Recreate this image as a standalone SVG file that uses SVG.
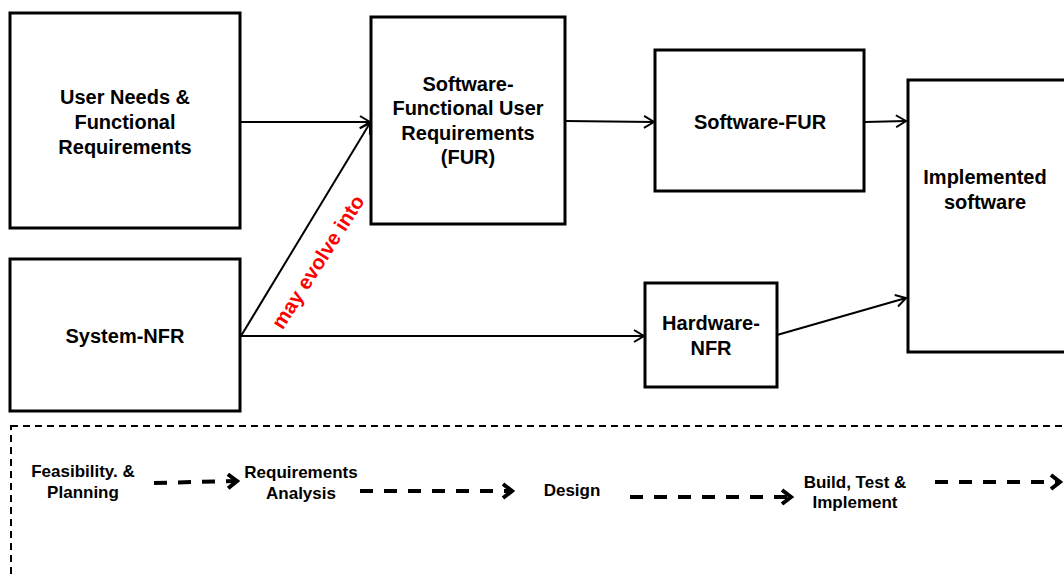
<svg xmlns="http://www.w3.org/2000/svg" width="1064" height="574" viewBox="0 0 1064 574">
  <style>
    .box { fill: #fff; stroke: #000; stroke-width: 3; }
    .lbl { font-family: "Liberation Sans", Arial, sans-serif; font-weight: bold; font-size: 20px; fill: #000; text-anchor: middle; }
    .phase { font-family: "Liberation Sans", Arial, sans-serif; font-weight: bold; font-size: 17px; fill: #000; text-anchor: middle; }
    .note { font-family: "Liberation Sans", Arial, sans-serif; font-weight: bold; font-size: 20.5px; fill: #ff0000; text-anchor: middle; }
    .conn { fill: none; stroke: #000; stroke-width: 2; marker-end: url(#open); }
    .flow { fill: none; stroke: #000; stroke-width: 4; stroke-dasharray: 13 11; marker-end: url(#chev); }
    .frame { fill: none; stroke: #000; stroke-width: 2; stroke-dasharray: 7 5; }
  </style>
  <defs>
    <marker id="open" markerUnits="userSpaceOnUse" markerWidth="14" markerHeight="16" viewBox="-12 -8 14 16" refX="0" refY="0" orient="auto">
      <path d="M-10,-6 L0,0 L-10,6" fill="none" stroke="#000" stroke-width="2"/>
    </marker>
    <marker id="chev" markerUnits="userSpaceOnUse" markerWidth="18" markerHeight="20" viewBox="-14 -10 18 20" refX="0" refY="0" orient="auto">
      <path d="M-10,-7 L-1,0 L-10,7" fill="none" stroke="#000" stroke-width="4"/>
    </marker>
  </defs>

  <!-- lifecycle frame -->
  <rect class="frame" x="11" y="426" width="1080" height="200"/>

  <g id="connectors">
    <line class="conn" x1="240" y1="122" x2="370" y2="122"/>
    <line class="conn" x1="241" y1="336" x2="370" y2="123"/>
    <line class="conn" x1="240" y1="336" x2="644" y2="336"/>
    <line class="conn" x1="565" y1="121" x2="654" y2="122"/>
    <line class="conn" x1="865" y1="122" x2="906" y2="121"/>
    <line class="conn" x1="777" y1="335" x2="906" y2="298"/>
    <text class="note" transform="translate(318,262) rotate(-57.5)" y="7">may evolve into</text>
  </g>

  <g id="user-needs">
    <rect class="box" x="10" y="13" width="230" height="215"/>
    <text class="lbl" x="125" y="104">User Needs &amp;</text>
    <text class="lbl" x="125" y="129">Functional</text>
    <text class="lbl" x="125" y="154">Requirements</text>
  </g>

  <g id="sw-fur-req">
    <rect class="box" x="371" y="17" width="194" height="207"/>
    <text class="lbl" x="468" y="91">Software-</text>
    <text class="lbl" x="468" y="115">Functional User</text>
    <text class="lbl" x="468" y="140">Requirements</text>
    <text class="lbl" x="468" y="164">(FUR)</text>
  </g>

  <g id="system-nfr">
    <rect class="box" x="10" y="259" width="230" height="152"/>
    <text class="lbl" x="125" y="343">System-NFR</text>
  </g>

  <g id="software-fur">
    <rect class="box" x="655" y="50" width="209" height="141"/>
    <text class="lbl" x="760" y="129">Software-FUR</text>
  </g>

  <g id="hardware-nfr">
    <rect class="box" x="645" y="283" width="132" height="104"/>
    <text class="lbl" x="711" y="330">Hardware-</text>
    <text class="lbl" x="711" y="355">NFR</text>
  </g>

  <g id="implemented">
    <rect class="box" x="908" y="80" width="180" height="272"/>
    <text class="lbl" x="985" y="184">Implemented</text>
    <text class="lbl" x="985" y="209">software</text>
  </g>

  <g id="phases">
    <text class="phase" x="83" y="477">Feasibility. &amp;</text>
    <text class="phase" x="83" y="498">Planning</text>
    <line class="flow" x1="154" y1="483" x2="238" y2="481"/>
    <text class="phase" x="301" y="478">Requirements</text>
    <text class="phase" x="301" y="499">Analysis</text>
    <line class="flow" x1="360" y1="491" x2="513" y2="491"/>
    <text class="phase" x="572" y="496">Design</text>
    <line class="flow" x1="630" y1="497" x2="792" y2="497"/>
    <text class="phase" x="855" y="488">Build, Test &amp;</text>
    <text class="phase" x="855" y="508">Implement</text>
    <line class="flow" x1="935" y1="482" x2="1061" y2="482"/>
  </g>
</svg>
